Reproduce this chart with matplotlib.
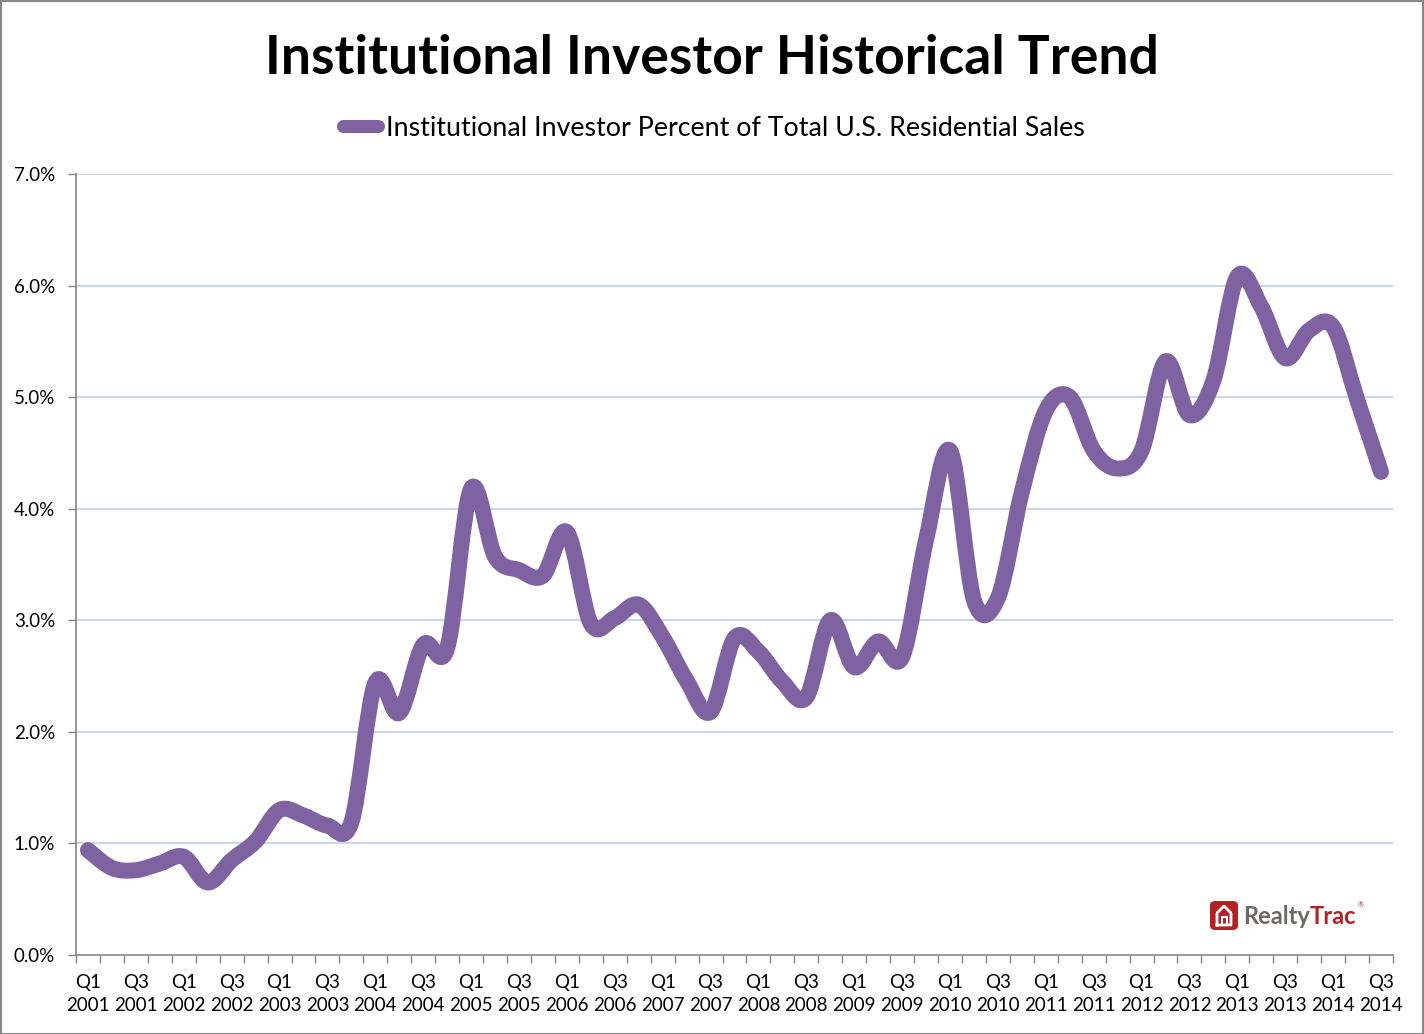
import matplotlib
matplotlib.use("Agg")
import matplotlib.pyplot as plt
from matplotlib.path import Path
from matplotlib.patches import PathPatch, FancyBboxPatch, Rectangle
from matplotlib.lines import Line2D
from matplotlib.ticker import FuncFormatter, FixedLocator
import numpy as np

plt.rcParams['font.family'] = ['Lato', 'DejaVu Sans']

years = list(range(2001, 2015))
quarters = [f"Q{q} {y}" for y in years for q in range(1, 5)][:55]
values = [0.94, 0.78, 0.76, 0.82, 0.88, 0.65, 0.85, 1.02,
          1.30, 1.25, 1.16, 1.19, 2.44, 2.17, 2.78, 2.75,
          4.18, 3.57, 3.45, 3.40, 3.79, 2.97, 3.02, 3.14,
          2.85, 2.46, 2.18, 2.84, 2.72, 2.45, 2.31, 3.00,
          2.58, 2.81, 2.67, 3.72, 4.52, 3.18, 3.20, 4.15,
          4.88, 5.00, 4.52, 4.36, 4.52, 5.32, 4.84, 5.15,
          6.08, 5.81, 5.35, 5.60, 5.63, 4.98, 4.33]
yticks = [0, 1, 2, 3, 4, 5, 6, 7]
series_name = "Institutional Investor Percent of Total U.S. Residential Sales"
title = "Institutional Investor Historical Trend"

W, H = 1424, 1034
fig = plt.figure(figsize=(W / 100, H / 100), dpi=100)
renderer = fig.canvas.get_renderer()
ax = fig.add_axes([76 / W, 1 - 955 / H, (1393 - 76) / W, (955 - 174) / H])

line_color = '#7E62A1'
grid_color = '#BDD0EA'
axis_color = '#868686'

x = np.arange(len(values))
y = np.array(values)

# Excel-like smoothed line (cardinal spline as cubic Bezier)
verts = [(x[0], y[0])]
codes = [Path.MOVETO]
n = len(x)
for i in range(n - 1):
    p0 = np.array([x[max(i - 1, 0)], y[max(i - 1, 0)]])
    p1 = np.array([x[i], y[i]])
    p2 = np.array([x[i + 1], y[i + 1]])
    p3 = np.array([x[min(i + 2, n - 1)], y[min(i + 2, n - 1)]])
    c1 = p1 + (p2 - p0) / 6.0
    c2 = p2 - (p3 - p1) / 6.0
    verts += [tuple(c1), tuple(c2), tuple(p2)]
    codes += [Path.CURVE4] * 3
path = Path(verts, codes)
ax.add_patch(PathPatch(path, facecolor='none', edgecolor=line_color, lw=11.5,
                       capstyle='round', joinstyle='round', zorder=3))

ax.set_xlim(-0.5, n - 0.5)
ax.set_ylim(0, 7)

for yt in yticks[1:]:
    ax.axhline(yt, color=grid_color, lw=1.2, zorder=1)

ax.set_yticks(yticks)
ax.yaxis.set_major_formatter(FuncFormatter(lambda v, p: f"{v:.1f}%"))
ax.tick_params(axis='y', length=6, width=1, color=axis_color, labelsize=13.5,
               pad=9, labelcolor='#000000')

label_pos = list(range(0, n, 2))
ax.xaxis.set_major_locator(FixedLocator(label_pos))
ax.set_xticklabels([quarters[i].replace(' ', '\n') for i in label_pos],
                   fontsize=13.5, linespacing=1.4)
ax.xaxis.set_minor_locator(FixedLocator(np.arange(-0.5, n, 1.0)))
ax.tick_params(axis='x', which='major', length=0, pad=14)
ax.tick_params(axis='x', which='minor', length=6, width=1, color=axis_color)

for s in ['top', 'right']:
    ax.spines[s].set_visible(False)
for s in ['left', 'bottom']:
    ax.spines[s].set_color(axis_color)
    ax.spines[s].set_linewidth(1.2)

# Title, scaled to the reference width
t = fig.text(712 / W, 1 - 59 / H, title, ha='center', va='center',
             fontsize=36, fontweight='bold')
w = t.get_window_extent(renderer).width
t.set_fontsize(36 * 893 / w)

# Legend
leg_fs = 17
tmp = fig.text(0, 0, series_name, fontsize=leg_fs)
w = tmp.get_window_extent(renderer).width
tmp.remove()
leg_fs = leg_fs * 697 / w
handle = Line2D([], [], color=line_color, lw=9.4, solid_capstyle='round')
fig.legend([handle], [series_name], loc='center',
           bbox_to_anchor=(714 / W, 1 - 128 / H), frameon=False,
           fontsize=leg_fs, handlelength=1.3, handletextpad=0.3)

# RealtyTrac logo
lx, ly = 1210 / W, 1 - 930 / H
fig.patches.append(FancyBboxPatch((lx, ly), 28 / W, 29 / H,
                                  boxstyle="round,pad=0,rounding_size=0.004",
                                  transform=fig.transFigure, facecolor='#B52025',
                                  edgecolor='none'))
hx = [1217, 1217, 1224, 1231, 1231, 1217]
hy = [925, 913, 906, 913, 925, 925]
fig.add_artist(Line2D([v / W for v in hx], [1 - v / H for v in hy],
                      color='white', lw=2, transform=fig.transFigure))
fig.add_artist(Line2D([1221.5 / W, 1221.5 / W, 1226.5 / W, 1226.5 / W],
                      [1 - 925 / H, 1 - 917 / H, 1 - 917 / H, 1 - 925 / H],
                      color='white', lw=1.5, transform=fig.transFigure))
t1 = fig.text(1243 / W, 1 - 916 / H, "Realty", fontsize=17, fontweight='bold',
              color='#6D6A66', va='center', ha='left')
e1 = t1.get_window_extent(renderer)
t2 = fig.text(e1.x1 / W, 1 - 916 / H, "Trac", fontsize=17, fontweight='bold',
              color='#B52025', va='center', ha='left')
e2 = t2.get_window_extent(renderer)
fig.text(e2.x1 / W + 0.0008, 1 - 905 / H, "®", fontsize=5, color='#B52025',
         va='center', ha='left')

fig.patches.append(Rectangle((0.5 / W, 0.5 / H), 1 - 1.5 / W, 1 - 1.5 / H,
                             transform=fig.transFigure, fill=False,
                             edgecolor='#888888', lw=1.5))

fig.savefig('out.png', dpi=100, facecolor='white')
